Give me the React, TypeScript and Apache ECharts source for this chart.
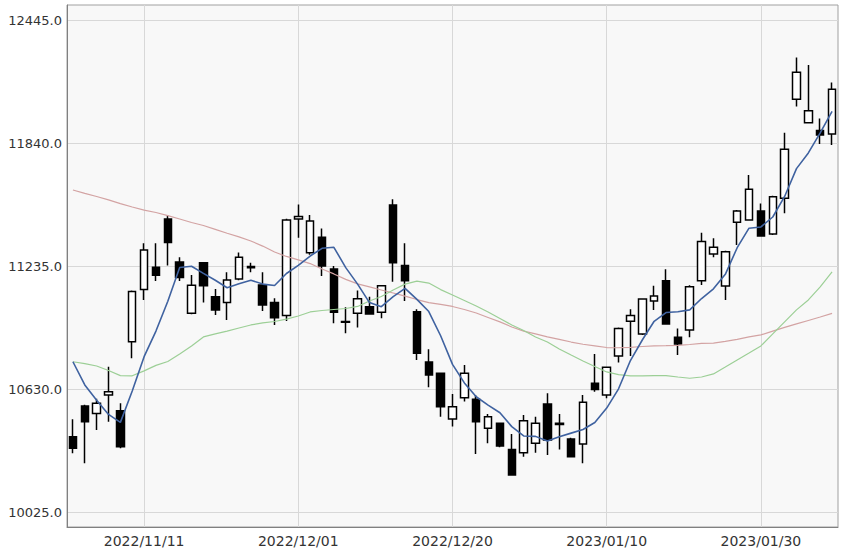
import React, { useEffect, useRef } from "react";
import * as echarts from "echarts";

const dates = [
  "2022/11/03", "2022/11/04", "2022/11/07", "2022/11/08", "2022/11/09", "2022/11/10", "2022/11/11",
  "2022/11/14", "2022/11/15", "2022/11/16", "2022/11/17", "2022/11/18", "2022/11/21", "2022/11/22",
  "2022/11/23", "2022/11/25", "2022/11/28", "2022/11/29", "2022/11/30", "2022/12/01", "2022/12/02",
  "2022/12/05", "2022/12/06", "2022/12/07", "2022/12/08", "2022/12/09", "2022/12/12", "2022/12/13",
  "2022/12/14", "2022/12/15", "2022/12/16", "2022/12/19", "2022/12/20", "2022/12/21", "2022/12/22",
  "2022/12/23", "2022/12/27", "2022/12/28", "2022/12/29", "2022/12/30", "2023/01/03", "2023/01/04",
  "2023/01/05", "2023/01/06", "2023/01/09", "2023/01/10", "2023/01/11", "2023/01/12", "2023/01/13",
  "2023/01/17", "2023/01/18", "2023/01/19", "2023/01/20", "2023/01/23", "2023/01/24", "2023/01/25",
  "2023/01/26", "2023/01/27", "2023/01/30", "2023/01/31", "2023/02/01", "2023/02/02", "2023/02/03",
  "2023/02/06", "2023/02/07",
];

const labelDates = ["2022/11/11", "2022/12/01", "2022/12/20", "2023/01/10", "2023/01/30"];

const opens = [
  10395, 10546, 10510, 10600, 10523, 10863, 11120, 11229, 11466, 11255, 11002, 11251, 11084, 11055,
  11171, 11232, 11142, 11055, 10991, 11466, 11300, 11376, 11220, 10962, 11002, 11035, 11007, 11535,
  11238, 11010, 10763, 10707, 10482, 10587, 10579, 10437, 10461, 10333, 10317, 10363, 10556, 10461,
  10384, 10360, 10658, 10600, 10792, 10963, 10900, 11063, 11163, 10884, 10920, 11163, 11294, 11137,
  11450, 11461, 11506, 11392, 11568, 12055, 11940, 11901, 11884,
];
const closes = [
  10338, 10469, 10560, 10616, 10346, 11109, 11314, 11189, 11351, 11178, 11140, 11138, 11019, 11166,
  11278, 11226, 11043, 10981, 11461, 11478, 11456, 11235, 11007, 10958, 11074, 10999, 11138, 11251,
  11163, 10806, 10699, 10543, 10543, 10707, 10469, 10494, 10350, 10207, 10474, 10461, 10379, 10455,
  10297, 10565, 10628, 10737, 10928, 10991, 11073, 11087, 10950, 10851, 11133, 11355, 11327, 11305,
  11506, 11612, 11383, 11576, 11809, 12188, 11999, 11879, 12104,
];
const lows = [
  10314, 10265, 10428, 10469, 10338, 10781, 11068, 11161, 11237, 11161, 10998, 11056, 10994, 10969,
  11165, 11204, 11014, 10945, 10964, 11374, 11290, 11186, 10953, 10904, 10933, 10995, 10978, 11158,
  11063, 10773, 10638, 10494, 10445, 10568, 10310, 10363, 10343, 10205, 10297, 10317, 10305, 10333,
  10295, 10265, 10617, 10584, 10760, 10792, 10896, 11019, 10948, 10797, 10884, 11142, 11278, 11068,
  11338, 11458, 11380, 11388, 11494, 12019, 11938, 11835, 11830,
];
const highs = [
  10481, 10552, 10582, 10740, 10560, 11114, 11347, 11347, 11486, 11278, 11191, 11255, 11122, 11204,
  11302, 11251, 11204, 11076, 11468, 11538, 11486, 11420, 11235, 11032, 11114, 11084, 11142, 11563,
  11347, 11022, 10825, 10710, 10605, 10748, 10600, 10507, 10465, 10409, 10502, 10494, 10609, 10507,
  10390, 10600, 10802, 10740, 10932, 11022, 11076, 11138, 11219, 10928, 11140, 11399, 11371, 11310,
  11510, 11683, 11543, 11580, 11891, 12261, 12224, 11961, 12137,
];

const ma5 = [
  10764, 10650, 10575, 10505, 10466, 10620, 10789, 10915, 11062, 11228, 11234, 11199, 11165, 11128,
  11148, 11165, 11146, 11139, 11198, 11238, 11284, 11322, 11327, 11227, 11146, 11055, 11035, 11084,
  11125, 11071, 11011, 10892, 10751, 10660, 10592, 10551, 10513, 10445, 10399, 10397, 10374, 10395,
  10413, 10431, 10465, 10536, 10631, 10770, 10871, 10963, 11006, 11010, 11019, 11075, 11123, 11194,
  11325, 11421, 11427, 11476, 11577, 11714, 11791, 11890, 11996,
];
const ma25 = [
  10764, 10755, 10743, 10721, 10696, 10695, 10719, 10746, 10765, 10802, 10842, 10886, 10901, 10915,
  10930, 10945, 10955, 10962, 10974, 10989, 11009, 11016, 11021, 11026, 11036, 11063, 11085, 11117,
  11146, 11161, 11151, 11119, 11092, 11065, 11038, 11009, 10977, 10945, 10918, 10886, 10861, 10827,
  10797, 10768, 10741, 10714, 10701, 10695, 10695, 10696, 10696, 10689, 10683, 10689, 10704, 10738,
  10773, 10807, 10842, 10901, 10960, 11019, 11068, 11132, 11206,
];
const ma75 = [
  11609, 11592, 11577, 11560, 11542, 11525, 11510, 11498, 11483, 11466, 11449, 11434, 11415, 11396,
  11378, 11358, 11333, 11304, 11282, 11265, 11247, 11220, 11196, 11169, 11147, 11132, 11117, 11102,
  11087, 11070, 11055, 11046, 11036, 11021, 11004, 10982, 10960, 10935, 10915, 10901, 10886, 10874,
  10861, 10850, 10842, 10834, 10833, 10835, 10839, 10842, 10843, 10845, 10849, 10854, 10856, 10864,
  10874, 10886, 10896, 10915, 10933, 10950, 10967, 10984, 11002,
];

const yTicks = [10025, 10630, 11235, 11840, 12445];

const FONT = "DejaVu Sans";

export default function App() {
  const ref = useRef<HTMLDivElement>(null);

  useEffect(() => {
    if (!ref.current) return;
    const chart = echarts.init(ref.current, undefined, { renderer: "svg" });

    const yMinLabel = yTicks[0];
    const yMaxLabel = yTicks[yTicks.length - 1];
    const step = yTicks[1] - yTicks[0];
    // frame extends 15px beyond label grid; label grid is 492px high
    const perPx = (yMaxLabel - yMinLabel) / 492;
    const frameMin = yMinLabel - 15 * perPx;
    const frameMax = yMaxLabel + 15 * perPx;

    const candleData = dates.map((_, i) => [opens[i], closes[i], lows[i], highs[i]]);
    const labelIdx = new Set(labelDates.map((d) => dates.indexOf(d)));

    chart.setOption({
      animation: false,
      backgroundColor: "#ffffff",
      grid: [
        {
          left: 67,
          right: 3,
          top: 5,
          bottom: 21,
          show: true,
          backgroundColor: "#f8f8f8",
          borderColor: "#a0a0a0",
          borderWidth: 1,
        },
        { left: 67, right: 3, top: 20, bottom: 36, show: false },
      ],
      xAxis: [
        {
          type: "category",
          gridIndex: 0,
          data: dates,
          boundaryGap: true,
          axisLine: { show: true, lineStyle: { color: "#808080", width: 1 } },
          axisTick: { show: false },
          splitLine: { show: false },
          axisLabel: {
            interval: (index: number) => labelIdx.has(index),
            color: "#333333",
            fontFamily: FONT,
            fontSize: 14,
            margin: 7,
          },
        },
        {
          type: "category",
          gridIndex: 1,
          data: dates,
          boundaryGap: true,
          show: false,
        },
      ],
      yAxis: [
        {
          type: "value",
          gridIndex: 0,
          min: frameMin,
          max: frameMax,
          axisLine: { show: true, lineStyle: { color: "#808080", width: 1 } },
          axisTick: { show: false },
          axisLabel: { show: false },
          splitLine: { show: false },
        },
        {
          type: "value",
          gridIndex: 1,
          min: yMinLabel,
          max: yMaxLabel,
          interval: step,
          axisLine: { show: false },
          axisTick: { show: false },
          axisLabel: {
            color: "#333333",
            fontFamily: FONT,
            fontSize: 13,
            margin: 5,
            formatter: (v: number) => v.toFixed(1),
          },
          splitLine: { show: true, lineStyle: { color: "#d8d8d8", width: 1 } },
        },
      ],
      series: [
        {
          type: "candlestick",
          xAxisIndex: 0,
          yAxisIndex: 0,
          data: candleData,
          barWidth: 8,
          z: 3,
          itemStyle: {
            color: "#ffffff",
            color0: "#000000",
            borderColor: "#000000",
            borderColor0: "#000000",
            borderWidth: 1.5,
          },
          markLine: {
            silent: true,
            z: 1,
            symbol: ["none", "none"],
            label: { show: false },
            lineStyle: { color: "#d8d8d8", type: "solid", width: 1 },
            data: labelDates.map((d) => ({ xAxis: d })),
          },
        },
        {
          type: "line",
          name: "MA75",
          xAxisIndex: 0,
          yAxisIndex: 0,
          data: ma75,
          showSymbol: false,
          z: 4,
          lineStyle: { color: "#d3a3a3", width: 1.2 },
        },
        {
          type: "line",
          name: "MA25",
          xAxisIndex: 0,
          yAxisIndex: 0,
          data: ma25,
          showSymbol: false,
          z: 4,
          lineStyle: { color: "#9ccf96", width: 1.2 },
        },
        {
          type: "line",
          name: "MA5",
          xAxisIndex: 0,
          yAxisIndex: 0,
          data: ma5,
          showSymbol: false,
          z: 5,
          lineStyle: { color: "#3f62a0", width: 1.6 },
        },
      ],
    });

    return () => chart.dispose();
  }, []);

  return (
    <div
      ref={ref}
      style={{ position: "fixed", left: 0, top: 0, width: 841, height: 548, background: "#fff" }}
    />
  );
}
